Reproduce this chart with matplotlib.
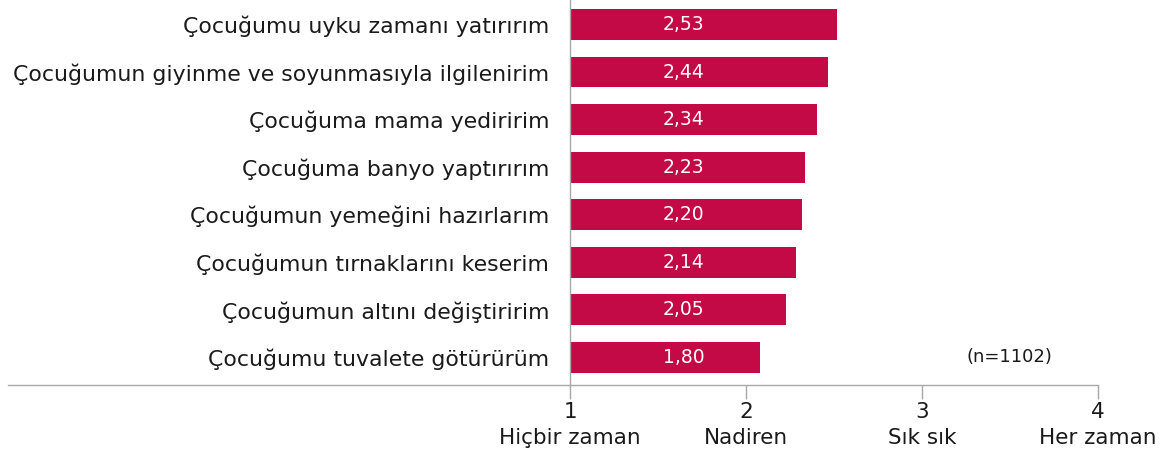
import matplotlib

matplotlib.use("Agg")

import matplotlib.pyplot as plt  # noqa: E402

_INK = "#1a1a1a"
_GRAY = "#a8a8a8"
_BAR = "#c30a47"

items = [
    "Çocuğumu uyku zamanı yatırırım",
    "Çocuğumun giyinme ve soyunmasıyla ilgilenirim",
    "Çocuğuma mama yediririm",
    "Çocuğuma banyo yaptırırım",
    "Çocuğumun yemeğini hazırlarım",
    "Çocuğumun tırnaklarını keserim",
    "Çocuğumun altını değiştiririm",
    "Çocuğumu tuvalete götürürüm",
]
scores = [2.53, 2.44, 2.34, 2.23, 2.20, 2.14, 2.05, 1.80]
scale_ticks = [1, 2, 3, 4]
scale_labels = ["Hiçbir zaman", "Nadiren", "Sık sık", "Her zaman"]
sample_note = "(n=1102)"

W, H = 1159, 458
fig = plt.figure(figsize=(W / 100, H / 100), dpi=100)
ax = fig.add_axes([570 / W, (H - 385.3) / H, 528 / W, 385.3 / H])

# bars sit on their own 0-5 scale, the visible axis reads 1-4
bx = ax.twiny()
ypos = list(range(len(items)))
bx.barh(ypos, scores, height=0.65, color=_BAR, left=0)
bx.set_xlim(0, 5)
bx.axis("off")
for y, v in zip(ypos, scores):
    bx.text(
        0.215, y, f"{v:.2f}".replace(".", ","),
        transform=bx.get_yaxis_transform(), ha="center", va="center",
        color="white", fontsize=13.5,
    )

ax.set_xlim(1, 4)
ax.set_ylim(len(items) - 1 + 0.589, -0.515)
ax.set_xticks(scale_ticks)
ax.set_xticklabels([f"{t}\n{lab}" for t, lab in zip(scale_ticks, scale_labels)],
                   fontsize=15.5, color=_INK, linespacing=1.35)
ax.set_yticks(ypos)
ax.set_yticklabels(items, fontsize=15.8, color=_INK)
ax.tick_params(axis="y", length=0, pad=15)
ax.tick_params(axis="x", length=10, width=1, color=_GRAY, pad=2)
for side in ("top", "right"):
    ax.spines[side].set_visible(False)
for side in ("left", "bottom"):
    ax.spines[side].set_color(_GRAY)
    ax.spines[side].set_linewidth(1)
ax.set_zorder(bx.get_zorder() + 1)
ax.patch.set_visible(False)

# baseline runs under the category labels too
ax.plot([1 - 562 * 3 / 528, 1], [0, 0], transform=ax.get_xaxis_transform(),
        color=_GRAY, lw=1, clip_on=False)

ax.text(0.833, len(items) - 1, sample_note, transform=ax.get_yaxis_transform(),
        ha="center", va="center", fontsize=13, color=_INK)

fig.savefig("out.png", dpi=100, facecolor="white")
